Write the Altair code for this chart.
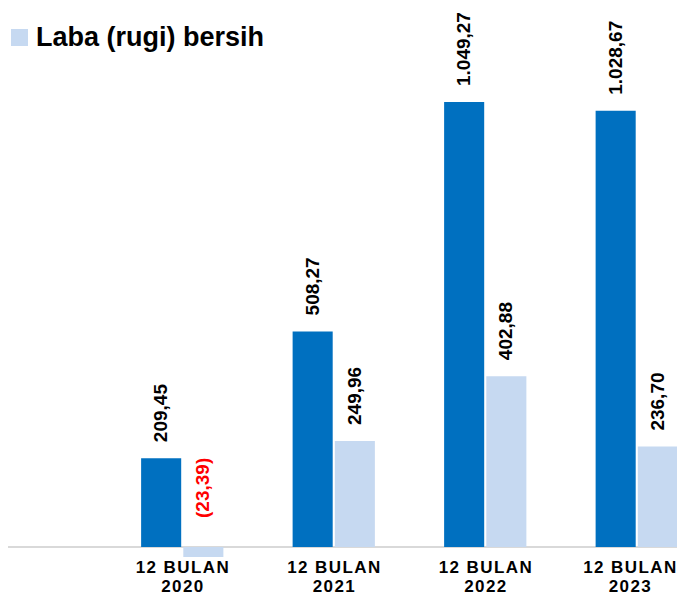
import altair as alt
import pandas as pd

periods = ["2020", "2021", "2022", "2023"]
series = ["Laba bruto", "Laba (rugi) bersih"]
laba_bruto = [209.45, 508.27, 1049.27, 1028.67]
laba_bersih = [-23.39, 249.96, 402.88, 236.70]


def fmt(v):
    s = f"{abs(v):,.2f}".replace(",", "X").replace(".", ",").replace("X", ".")
    return f"({s})" if v < 0 else s


rows = []
for p, a, b in zip(periods, laba_bruto, laba_bersih):
    rows.append(dict(period=p, series=series[0], value=a, label=fmt(a)))
    rows.append(dict(period=p, series=series[1], value=b, label=fmt(b)))
df = pd.DataFrame(rows)

W, H = 669, 550
FONT = "Liberation Sans"
YDOM = [-26, 1271]

x = alt.X(
    "period:N",
    scale=alt.Scale(domain=periods, range=[98.5, 704.5], paddingInner=0.457, paddingOuter=0.2285),
    axis=alt.Axis(
        title=None, domain=False, ticks=False, labelAngle=0,
        labelExpr="[join(split('12 BULAN', ''), '\u200a'), join(split(datum.label, ''), '\u200a')]",
        labelFont=FONT, labelFontWeight="bold", labelFontSize=17, labelColor="black",
        labelLineHeight=19, labelBaseline="top", labelPadding=1, labelOverlap=False,
        labelFlush=False, labelBound=False,
        labelOffset={"condition": {"test": "datum.value === '2023'", "value": -7}, "value": 0},
    ),
)
xo = alt.XOffset("series:N", scale=alt.Scale(domain=series, paddingInner=0.05))
y = alt.Y("value:Q", scale=alt.Scale(domain=YDOM, nice=False, zero=False), axis=None)
color = alt.Color(
    "series:N",
    scale=alt.Scale(domain=series, range=["#0070C0", "#C6D9F1"]),
    legend=alt.Legend(
        values=[series[1]], orient="none", legendX=-2, legendY=16, title=None,
        symbolType="square", symbolSize=289, symbolStrokeWidth=0,
        labelFont=FONT, labelFontSize=27, labelFontWeight="bold", labelColor="black",
        labelLimit=0, labelOffset=3,
    ),
)

base = alt.Chart(df)

rule = alt.Chart(pd.DataFrame({"z": [0]})).mark_rule(color="#D9D9D9", strokeWidth=2).encode(
    y=alt.Y("z:Q", scale=alt.Scale(domain=YDOM, nice=False, zero=False), axis=None),
    x=alt.value(0), x2=alt.value(W),
)

bars = base.mark_bar().encode(x=x, xOffset=xo, y=y, y2=alt.datum(0), color=color)

pos_labels = base.transform_filter("datum.value >= 0").mark_text(
    angle=270, align="left", baseline="middle", dx=16,
    font=FONT, fontSize=19, fontWeight="bold", color="black",
).encode(x=x, xOffset=xo, y=y, text="label:N")

neg_labels = base.transform_filter("datum.value < 0").mark_text(
    angle=270, align="left", baseline="middle", dx=29,
    font=FONT, fontSize=19, fontWeight="bold", color="#FF0000",
).encode(x=x, xOffset=xo, y=alt.datum(0), text="label:N")

chart = alt.layer(rule, bars, pos_labels, neg_labels).properties(
    width=W, height=H,
    padding={"left": 0, "top": 0, "right": 0, "bottom": 38},
    autosize=alt.AutoSizeParams(type="none"),
).configure_view(stroke=None)

chart.save("out.html", embed_options={"renderer": "svg", "actions": False})
